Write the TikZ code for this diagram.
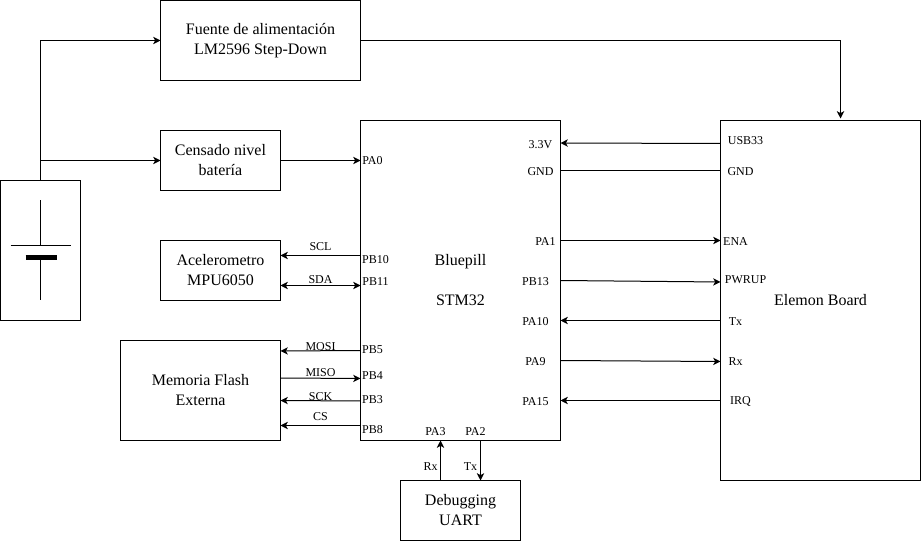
\documentclass[tikz,border=0pt]{standalone}
\usepackage{fontspec}
\setmainfont{Liberation Serif}
\usetikzlibrary{arrows.meta}

\begin{document}
\begin{tikzpicture}[x=0.75pt,y=-0.75pt,line width=0.75pt,>={Stealth[length=5.5pt,width=5.5pt,inset=1.5pt]}]
\tikzstyle{box}=[draw,black,outer sep=0pt,inner sep=0pt,align=center,font=\fontsize{12}{15}\selectfont]
\tikzstyle{pin}=[inner sep=0pt,font=\fontsize{9}{10}\selectfont]
\useasboundingbox (-0.5,-0.5) rectangle (920.5,540.5);
% blocks
\node [box,minimum width=150pt,minimum height=60pt] (fuente) at (260,40) {Fuente de alimentación\\LM2596 Step-Down};
\node [box,minimum width=90pt,minimum height=45pt] (censado) at (220,160) {Censado nivel\\batería};
\node [box,minimum width=90pt,minimum height=45pt] (acel) at (220,270) {Acelerometro\\MPU6050};
\node [box,minimum width=120pt,minimum height=75pt] (flash) at (200,390) {Memoria Flash\\Externa};
\node [box,minimum width=150pt,minimum height=240pt] (bluepill) at (460,280) {Bluepill\\[15pt]STM32};
\node [box,minimum width=150pt,minimum height=270pt] (elemon) at (820,300) {Elemon Board};
\node [box,minimum width=90pt,minimum height=45pt] (uart) at (460,510) {Debugging\\UART};
\node [box,minimum width=60pt,minimum height=105pt] (bateria) at (40,250) {};
% battery symbol
\draw (40,200) -- (40,245);
\draw (10,245) -- (70,245);
\draw [line width=3.75pt] (25,257.5) -- (56,257.5);
\draw (40,257) -- (40,300);
% pins on bluepill
\coordinate (pa0) at (360,160);
\coordinate (pb10) at (360,255);
\coordinate (pb11) at (360,285);
\coordinate (pb5) at (360,350);
\coordinate (pb4) at (360,378);
\coordinate (pb3) at (360,400.5);
\coordinate (pb8) at (360,425);
\coordinate (vcc) at (560,142.5);
\coordinate (gnd) at (560,170);
\coordinate (pa1) at (560,240);
\coordinate (pb13) at (560,280);
\coordinate (pa10) at (560,320);
\coordinate (pa9) at (560,360);
\coordinate (pa15) at (560,400);
\coordinate (pa3) at (440,440);
\coordinate (pa2) at (480,440);
% pins on elemon
\coordinate (usb33) at (720,143);
\coordinate (egnd) at (720,170);
\coordinate (ena) at (720,240);
\coordinate (pwrup) at (720,281.5);
\coordinate (etx) at (720,320);
\coordinate (erx) at (720,361);
\coordinate (irq) at (720,400);
% pins on the other blocks
\coordinate (scl) at (280,255);
\coordinate (sda) at (280,285);
\coordinate (mosi) at (280,350.5);
\coordinate (miso) at (280,377.5);
\coordinate (sck) at (280,400);
\coordinate (cs) at (280,425);
\coordinate (urx) at (440,480);
\coordinate (utx) at (480,480);
\coordinate (rama) at (40,160);
\coordinate (codo) at (40,40);
\coordinate (tope) at (840,40);
\coordinate (entrada) at (840,118);
\coordinate (censin) at (160,160);
% power
\draw [->] (bateria.north) -- (codo) -- (fuente.west);
\draw [->] (rama) -- (censin);
\draw [->] (fuente.east) -- (tope) -- (entrada);
\draw [->] (censado.east) -- (pa0);
% left side
\draw [->] (pb10) -- (scl);
\draw [<->] (sda) -- (pb11);
\draw [->] (pb5) -- (mosi);
\draw [->] (miso) -- (pb4);
\draw [->] (pb3) -- (sck);
\draw [->] (pb8) -- (cs);
% right side
\draw [->] (usb33) -- (vcc);
\draw (gnd) -- (egnd);
\draw [->] (pa1) -- (ena);
\draw [->] (pb13) -- (pwrup);
\draw [->] (etx) -- (pa10);
\draw [->] (pa9) -- (erx);
\draw [->] (irq) -- (pa15);
% uart
\draw [->] (urx) -- (pa3);
\draw [->] (pa2) -- (utx);
% labels
\node [pin] (lpa0) at (372,160.5) {PA0};
\node [pin] (lpb10) at (375,259) {PB10};
\node [pin] (lpb11) at (375,281) {PB11};
\node [pin] (lpb5) at (372,349) {PB5};
\node [pin] (lpb4) at (372,375) {PB4};
\node [pin] (lpb3) at (372,399) {PB3};
\node [pin] (lpb8) at (372,429) {PB8};
\node [pin] (lscl) at (320,246) {SCL};
\node [pin] (lsda) at (320,279) {SDA};
\node [pin] (lmosi) at (320,346) {MOSI};
\node [pin] (lmiso) at (320,372) {MISO};
\node [pin] (lsck) at (320,396) {SCK};
\node [pin] (lcs) at (320,416) {CS};
\node [pin] (lvcc) at (540,144) {3.3V};
\node [pin] (lgnd) at (540,171) {GND};
\node [pin] (lpa1) at (545,241) {PA1};
\node [pin] (lpb13) at (535,281) {PB13};
\node [pin] (lpa10) at (535,321) {PA10};
\node [pin] (lpa9) at (535,361) {PA9};
\node [pin] (lpa15) at (535,401) {PA15};
\node [pin] (lusb33) at (745,140) {USB33};
\node [pin] (legnd) at (740,171) {GND};
\node [pin] (lena) at (735,241) {ENA};
\node [pin] (lpwrup) at (745,279) {PWRUP};
\node [pin] (letx) at (735,321) {Tx};
\node [pin] (lerx) at (735,361) {Rx};
\node [pin] (lirq) at (740,401) {IRQ};
\node [pin] (lpa3) at (435,431) {PA3};
\node [pin] (lpa2) at (475,431) {PA2};
\node [pin] (lurx) at (430,466) {Rx};
\node [pin] (lutx) at (470,466) {Tx};
\end{tikzpicture}
\end{document}
